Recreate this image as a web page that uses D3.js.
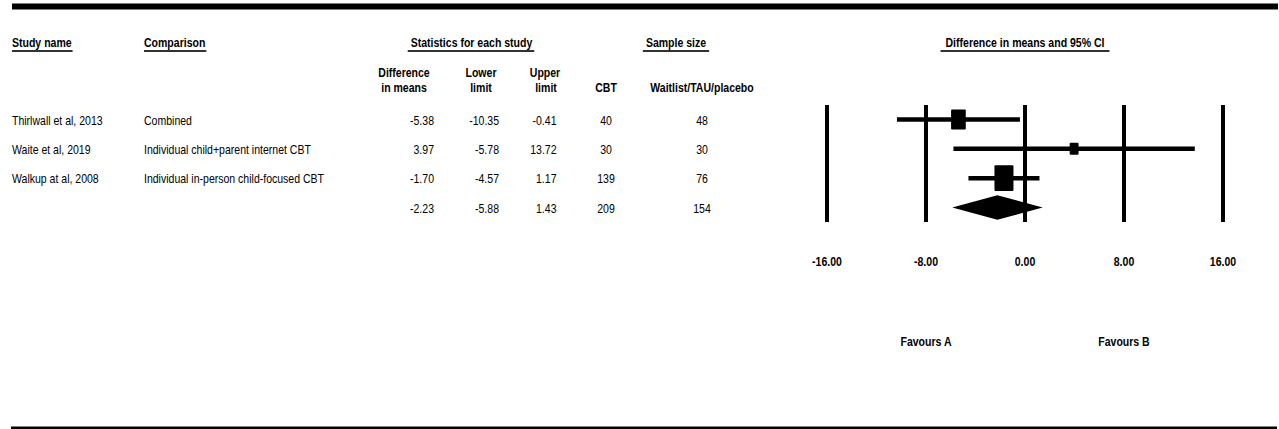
<!DOCTYPE html>
<html>
<head>
<meta charset="utf-8">
<script src="https://cdn.jsdelivr.net/npm/d3@7"></script>
<style>
  html, body { margin: 0; padding: 0; background: #fff; }
  svg { display: block; }
  text { font-family: "Liberation Sans", Arial, sans-serif; fill: #000; }
</style>
</head>
<body>
<svg id="chart" width="1279" height="429"></svg>
<script>
// Study rows
const studies = ["Thirlwall et al, 2013", "Waite et al, 2019", "Walkup at al, 2008"];
const comparisons = ["Combined", "Individual child+parent internet CBT", "Individual in-person child-focused CBT"];
const diffMeans = [-5.38, 3.97, -1.70];
const lowerLimits = [-10.35, -5.78, -4.57];
const upperLimits = [-0.41, 13.72, 1.17];
const nCBT = [40, 30, 139];
const nControl = [48, 30, 76];
// relative weights (%) that set the size of each study's box
const weights = [32.9, 12.1, 55.0];

// pooled summary
const summary = { diff: -2.23, lower: -5.88, upper: 1.43, nCBT: 209, nControl: 154 };

// axis
const axisTicks = [-16, -8, 0, 8, 16];
const favourLabels = [{ label: "Favours A", at: -8 }, { label: "Favours B", at: 8 }];

const svg = d3.select("#chart");
const fmt = d3.formatLocale({ decimal: ".", thousands: ",", grouping: [3], currency: ["", ""], minus: "-" }).format(".2f");
const SX = 0.81;       // glyphs are drawn tall and narrow
const FS = 13;

function txt(x, y, s, anchor = "start", bold = false) {
  return svg.append("text")
    .attr("transform", `translate(${x},${y}) scale(${SX},1)`)
    .attr("text-anchor", anchor)
    .attr("font-size", FS)
    .attr("font-weight", bold ? "bold" : "normal")
    .text(s);
}

function underlined(x, y, s, anchor, padL, padR) {
  const t = txt(x, y, s, anchor, true);
  const w = t.node().getComputedTextLength() * SX;
  const x0 = anchor === "middle" ? x - w / 2 : (anchor === "end" ? x - w : x);
  svg.append("rect")
    .attr("x", x0 - padL).attr("y", y + 3.2)
    .attr("width", w + padL + padR).attr("height", 1.6)
    .attr("fill", "#000");
}

// frame rules
svg.append("rect").attr("x", 12).attr("y", 3.5).attr("width", 1266).attr("height", 6).attr("fill", "#000");
svg.append("rect").attr("x", 11).attr("y", 426.5).attr("width", 1266).attr("height", 2.5).attr("fill", "#000");

// column headers
const hY = 47;
underlined(12, hY, "Study name", "start", 0, 1);
underlined(144, hY, "Comparison", "start", 0, 1);
underlined(471.5, hY, "Statistics for each study", "middle", 3, 2);
underlined(676, hY, "Sample size", "middle", 3, 3);
underlined(1025, hY, "Difference in means and 95% CI", "middle", 5, 5);

const sub1 = 77, sub2 = 92;
txt(404, sub1, "Difference", "middle", true);
txt(404, sub2, "in means", "middle", true);
txt(481, sub1, "Lower", "middle", true);
txt(481, sub2, "limit", "middle", true);
txt(545, sub1, "Upper", "middle", true);
txt(546, sub2, "limit", "middle", true);
txt(606, sub2, "CBT", "middle", true);
txt(702, sub2, "Waitlist/TAU/placebo", "middle", true);

// row positions
const nRows = studies.length + 1;
const y = d3.scalePoint().domain(d3.range(nRows)).range([119.5, 207.5]);

studies.forEach((s, i) => {
  const by = y(i) + 5;
  txt(12, by, s);
  txt(144, by, comparisons[i]);
  txt(434, by, fmt(diffMeans[i]), "end");
  txt(499, by, fmt(lowerLimits[i]), "end");
  txt(556.5, by, fmt(upperLimits[i]), "end");
  txt(606, by, nCBT[i], "middle");
  txt(702, by, nControl[i], "middle");
});
{
  const by = y(nRows - 1) + 5;
  txt(434, by, fmt(summary.diff), "end");
  txt(499, by, fmt(summary.lower), "end");
  txt(556.5, by, fmt(summary.upper), "end");
  txt(606, by, summary.nCBT, "middle");
  txt(702, by, summary.nControl, "middle");
}

// forest plot
const x = d3.scaleLinear().domain([-16, 16]).range([827, 1223]);
const plot = svg.append("g");

plot.selectAll("line.grid").data(axisTicks).join("line")
  .attr("class", "grid")
  .attr("x1", d => x(d)).attr("x2", d => x(d))
  .attr("y1", 105).attr("y2", 222)
  .attr("stroke", "#000").attr("stroke-width", 4);

const rows = studies.map((s, i) => ({ i, d: diffMeans[i], lo: lowerLimits[i], hi: upperLimits[i], w: weights[i] }));

plot.selectAll("line.ci").data(rows).join("line")
  .attr("class", "ci")
  .attr("x1", r => x(r.lo)).attr("x2", r => x(r.hi))
  .attr("y1", r => y(r.i)).attr("y2", r => y(r.i))
  .attr("stroke", "#000").attr("stroke-width", 4.5);

const side = d3.scaleSqrt().domain([0, 55]).range([0, 19]);
plot.selectAll("rect.box").data(rows).join("rect")
  .attr("class", "box")
  .attr("x", r => x(r.d) - side(r.w) / 2)
  .attr("y", r => y(r.i) - side(r.w) * 1.35 / 2)
  .attr("width", r => side(r.w))
  .attr("height", r => side(r.w) * 1.35)
  .attr("rx", 1)
  .attr("fill", "#000");

const sy = y(nRows - 1);
plot.append("path")
  .attr("d", `M${x(summary.lower)},${sy} L${x(summary.diff)},${sy - 12.2} L${x(summary.upper)},${sy} L${x(summary.diff)},${sy + 12.2} Z`)
  .attr("fill", "#000");

// tick labels
axisTicks.forEach(t => txt(x(t), 266, fmt(t), "middle", true));
favourLabels.forEach(f => txt(x(f.at), 346, f.label, "middle", true));
</script>
</body>
</html>
